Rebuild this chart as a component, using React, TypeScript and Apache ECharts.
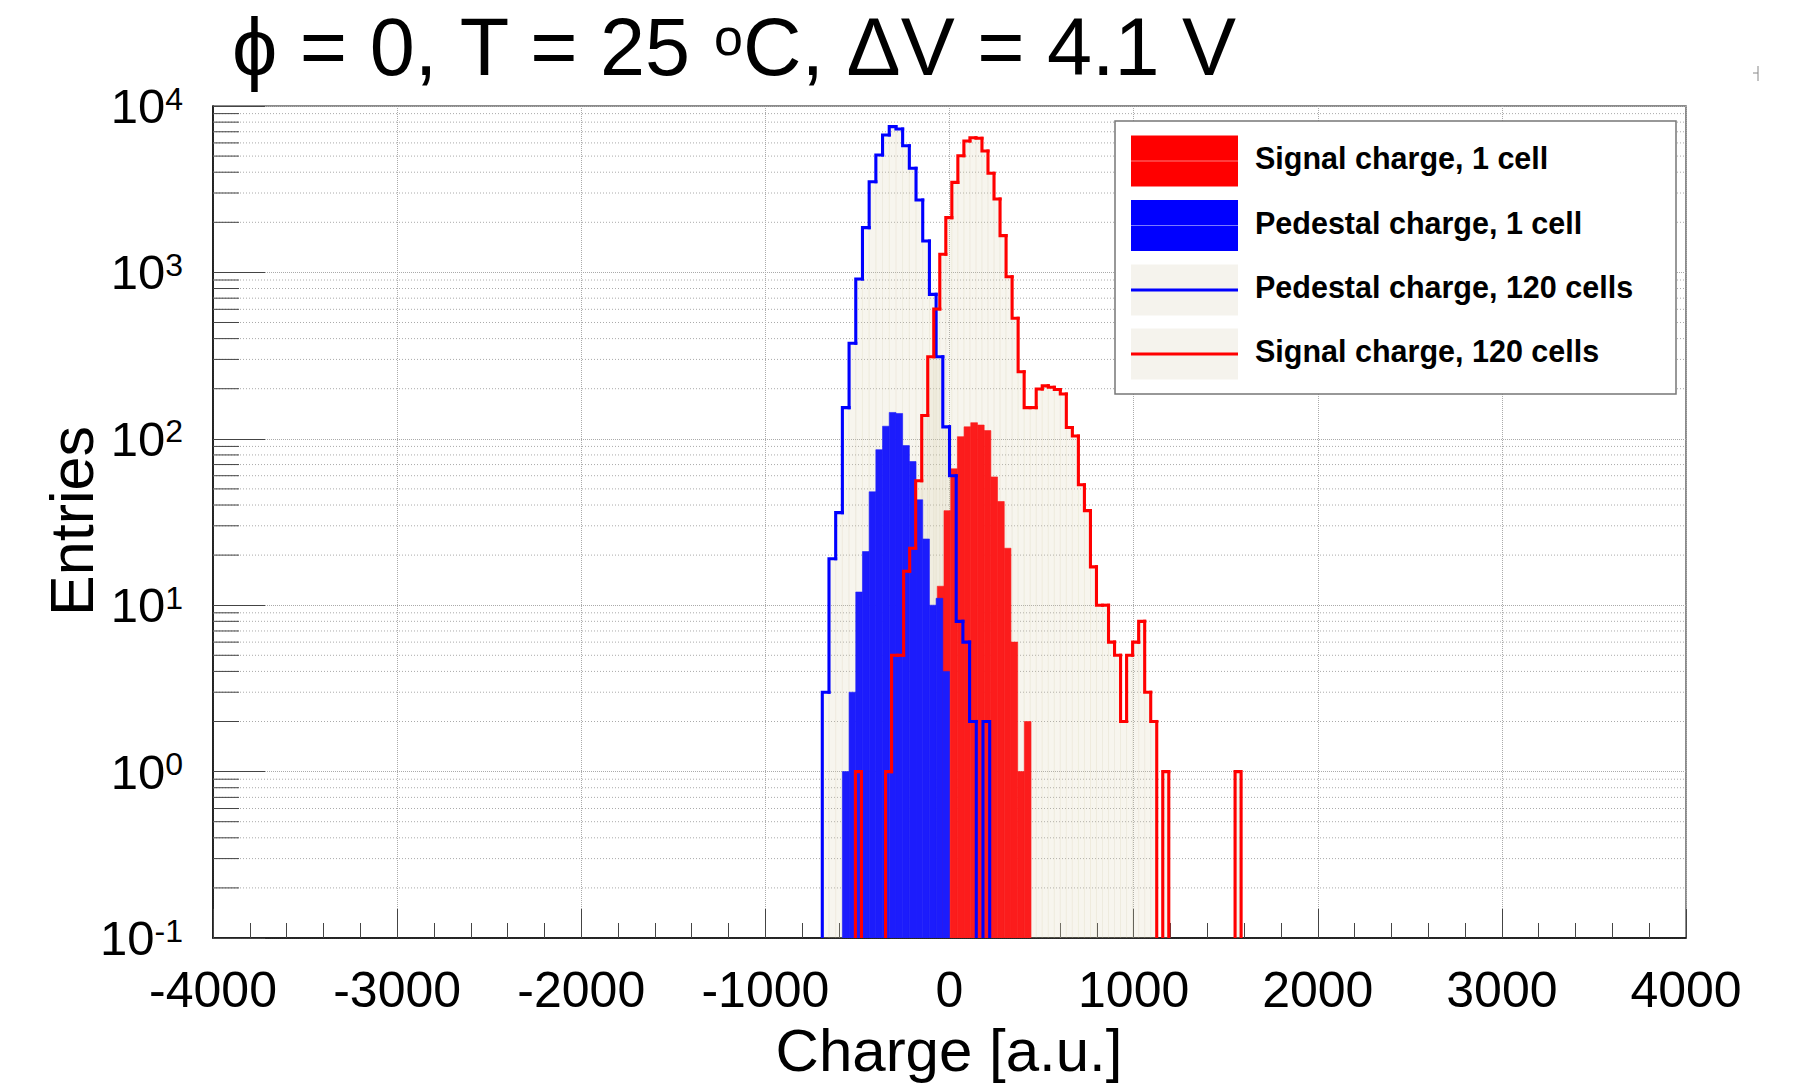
import React, { useEffect, useRef } from "react";
import * as echarts from "echarts";

const FONT = "'Liberation Sans', Arial, Helvetica, sans-serif";

// ---- axes ----
const xRange = [-4000, 4000];
const xTickStep = 1000;
const yRange = [0.1, 10000];
const yMinorDecades = [-1, 0, 1, 2, 3];
const yMinorMultipliers = [2, 3, 4, 5, 6, 7, 8, 9];

// ---- histograms (bin lower edge of first bin, bin width, counts) ----
// Pedestal charge, 120 cells
const ped120BinStart = -690.9;
const ped120BinWidth = 36.364;
const ped120Counts = [3, 19, 36, 154, 375, 912, 1858, 3507, 5081, 6700, 7515, 7277, 5770, 4227, 2722, 1545, 738, 311, 118, 60, 8, 6, 2, 0, 2];

// Pedestal charge, 1 cell
const ped1BinStart = -581.8;
const ped1BinWidth = 36.364;
const ped1Counts = [1, 3, 12, 21, 48, 86, 119, 144, 142, 91, 73, 43, 25, 10, 11, 4];

// Signal charge, 1 cell
const sig1BinStart = -66.3;
const sig1BinWidth = 36.364;
const sig1Counts = [13, 37, 66, 103, 118, 125, 121, 112, 59, 42, 22, 6, 1, 2];

// Signal charge, 120 cells
const sig120BinStart = -511.0;
const sig120BinWidth = 32.73;
const sig120Counts = [1, 0, 0, 0, 0, 1, 5, 5, 16, 22, 56, 138, 311, 603, 1285, 2134, 3475, 5023, 6164, 6443, 6400, 5370, 3944, 2762, 1664, 942, 530, 253, 154, 154, 199, 208, 204, 198, 186, 117, 104, 53, 37, 17, 10, 10, 6, 5, 2, 5, 6, 8, 3, 2, 0, 1, 0, 0, 0, 0, 0, 0, 0, 0, 0, 0, 0, 1];

const legendLabels = ["Signal charge, 1 cell", "Pedestal charge, 1 cell", "Pedestal charge, 120 cells", "Signal charge, 120 cells"];
const titleText = "ϕ = 0, T = 25 {o|o}C, ΔV = 4.1 V";

const RED = "#ff0000";
const BLUE = "#0000ff";
const RED_FILL = "#fc1c1c";
const BLUE_FILL = "#1c1cfc";
const BEIGE = "rgba(214,204,172,0.2)";

function binData(start: number, width: number, counts: number[]) {
  return counts.map((c, i) => [start + i * width, start + (i + 1) * width, c, i > 0 ? counts[i - 1] : 0]);
}

function yPix(api: any, c: number) {
  return api.coord([0, c > 0 ? c : yRange[0]])[1];
}

function histSeries(name: string, kind: "fill" | "line", start: number, width: number, counts: number[], color: string, z: number) {
  const data = binData(start, width, counts);
  return {
    type: "custom",
    name,
    coordinateSystem: "cartesian2d",
    clip: true,
    silent: true,
    z,
    encode: { x: [0, 1], y: 2 },
    data,
    renderItem: (params: any, api: any) => {
      const left = api.value(0);
      const right = api.value(1);
      const c = api.value(2);
      const prev = api.value(3);
      const xL = api.coord([left, yRange[0]])[0];
      const xR = api.coord([right, yRange[0]])[0];
      const bottom = api.coord([left, yRange[0]])[1];
      const yc = yPix(api, c);
      if (kind === "fill") {
        if (!(c > 0)) return null;
        return {
          type: "rect",
          shape: { x: xL, y: yc, width: xR - xL, height: bottom - yc },
          style: { fill: color, stroke: color, lineWidth: 0.6 },
        };
      }
      const children: any[] = [];
      const lineStyle = { stroke: color, lineWidth: 3.1, fill: null, lineJoin: "miter", lineCap: "square" };
      if (c > 0) {
        const pts: number[][] = [[xL, yPix(api, prev)], [xL, yc], [xR, yc]];
        if (params.dataIndex === counts.length - 1) pts.push([xR, bottom]);
        children.push({ type: "polyline", shape: { points: pts }, style: lineStyle });
      } else if (prev > 0) {
        children.push({ type: "polyline", shape: { points: [[xL, yPix(api, prev)], [xL, bottom]] }, style: lineStyle });
      }
      return { type: "group", children };
    },
  };
}

const minorLevels: number[][] = [];
yMinorDecades.forEach((e) => yMinorMultipliers.forEach((m) => minorLevels.push([xRange[0], m * Math.pow(10, e)])));

export default function App() {
  const ref = useRef<HTMLDivElement>(null);
  useEffect(() => {
    if (!ref.current) return;
    const chart = echarts.init(ref.current, undefined, { renderer: "svg" });

    const legendX = 1115, legendY = 121, legendW = 561, legendH = 273;
    const rowY = [161, 225.5, 290, 354];
    const legendGraphics: any[] = [
      { type: "rect", z: 100, shape: { x: legendX, y: legendY, width: legendW, height: legendH }, style: { fill: "#fff", stroke: "#777", lineWidth: 1.5 } },
    ];
    rowY.forEach((cy, i) => {
      const boxFill = i === 0 ? RED : i === 1 ? BLUE : "#f5f3ed";
      legendGraphics.push({ type: "rect", z: 101, shape: { x: 1131, y: cy - 25.5, width: 107, height: 51 }, style: { fill: boxFill } });
      if (i < 2) {
        legendGraphics.push({ type: "line", z: 102, shape: { x1: 1131, y1: cy, x2: 1238, y2: cy }, style: { stroke: i === 0 ? "#ff7a7a" : "#7a7aff", lineWidth: 1 } });
      } else {
        legendGraphics.push({ type: "line", z: 102, shape: { x1: 1131, y1: cy, x2: 1238, y2: cy }, style: { stroke: i === 2 ? BLUE : RED, lineWidth: 3 } });
      }
      legendGraphics.push({
        type: "text", z: 103, x: 1255, y: cy - 3,
        style: { text: legendLabels[i], fontFamily: FONT, fontSize: 30.5, fontWeight: "bold", fill: "#000", align: "left", verticalAlign: "middle" },
      });
    });

    const option: any = {
      animation: false,
      backgroundColor: "#ffffff",
      grid: { left: 213, right: 118, top: 106, bottom: 145, show: true, borderColor: "#666", borderWidth: 1.5, backgroundColor: "transparent" },
      xAxis: {
        type: "value",
        min: xRange[0],
        max: xRange[1],
        interval: xTickStep,
        axisLine: { show: true, onZero: false, lineStyle: { color: "#000", width: 1.5 } },
        axisTick: { show: true, inside: true, length: 29, lineStyle: { color: "#444", width: 1 } },
        minorTick: { show: true, splitNumber: 5, length: 15, lineStyle: { color: "#444", width: 1 } },
        splitLine: { show: true, lineStyle: { type: "dotted", color: "#aaa", width: 1 } },
        axisLabel: { fontFamily: FONT, fontSize: 50, lineHeight: 40, color: "#000", margin: 32, formatter: (v: number) => String(v) },
      },
      yAxis: {
        type: "log",
        logBase: 10,
        min: yRange[0],
        max: yRange[1],
        splitNumber: 5,
        axisLine: { show: true, onZero: false, lineStyle: { color: "#000", width: 1.5 } },
        axisTick: { show: true, inside: true, length: 52, lineStyle: { color: "#444", width: 1 } },
        splitLine: { show: true, lineStyle: { type: "dotted", color: "#aaa", width: 1 } },
        axisLabel: {
          margin: 30,
          color: "#000",
          formatter: (v: number) => `{b|10}{s|${Math.round(Math.log10(v))}}`,
          rich: {
            b: { fontFamily: FONT, fontSize: 49, color: "#000" },
            s: { fontFamily: FONT, fontSize: 32, color: "#000", padding: [0, 0, 15, 0] },
          },
        },
      },
      series: [
        {
          type: "custom",
          name: "minor grid",
          coordinateSystem: "cartesian2d",
          silent: true,
          clip: true,
          z: 1,
          encode: { x: 0, y: 1 },
          data: minorLevels,
          renderItem: (params: any, api: any) => {
            const y = api.coord([xRange[0], api.value(1)])[1];
            const x0 = api.coord([xRange[0], yRange[0]])[0];
            const x1 = api.coord([xRange[1], yRange[0]])[0];
            return {
              type: "group",
              children: [
                { type: "line", shape: { x1: x0, y1: y, x2: x1, y2: y }, style: { stroke: "#aaa", lineWidth: 1, lineDash: [1, 2] } },
                { type: "line", shape: { x1: x0, y1: y, x2: x0 + 26, y2: y }, style: { stroke: "#444", lineWidth: 1 } },
              ],
            };
          },
        },
        histSeries("Pedestal charge, 120 cells fill", "fill", ped120BinStart, ped120BinWidth, ped120Counts, BEIGE, 2),
        histSeries("Signal charge, 120 cells fill", "fill", sig120BinStart, sig120BinWidth, sig120Counts, BEIGE, 2),
        histSeries("Signal charge, 1 cell", "fill", sig1BinStart, sig1BinWidth, sig1Counts, RED_FILL, 3),
        histSeries("Pedestal charge, 1 cell", "fill", ped1BinStart, ped1BinWidth, ped1Counts, BLUE_FILL, 4),
        histSeries("Pedestal charge, 120 cells", "line", ped120BinStart, ped120BinWidth, ped120Counts, BLUE, 5),
        histSeries("Signal charge, 120 cells", "line", sig120BinStart, sig120BinWidth, sig120Counts, RED, 6),
      ],
      graphic: [
        {
          type: "text", z: 100, x: 232, y: 47,
          style: {
            text: titleText, fontFamily: FONT, fontSize: 81, fill: "#000", align: "left", verticalAlign: "middle",
            rich: { o: { fontFamily: FONT, fontSize: 52, fill: "#000", padding: [0, 0, 20, 0] } },
          },
        },
        {
          type: "text", z: 100, x: 72, y: 521, rotation: Math.PI / 2,
          style: { text: "Entries", fontFamily: FONT, fontSize: 61, fill: "#000", align: "center", verticalAlign: "middle" },
        },
        {
          type: "text", z: 100, x: 949, y: 1050,
          style: { text: "Charge [a.u.]", fontFamily: FONT, fontSize: 60, lineHeight: 50, fill: "#000", align: "center", verticalAlign: "middle" },
        },
        { type: "line", z: 100, shape: { x1: 1758, y1: 66, x2: 1758, y2: 81 }, style: { stroke: "#888", lineWidth: 1 } },
        { type: "line", z: 100, shape: { x1: 1753, y1: 73, x2: 1758, y2: 73 }, style: { stroke: "#888", lineWidth: 1 } },
        ...legendGraphics,
      ],
    };
    chart.setOption(option);
    return () => chart.dispose();
  }, []);
  return <div ref={ref} style={{ position: "absolute", left: 0, top: 0, width: 1804, height: 1083 }} />;
}
